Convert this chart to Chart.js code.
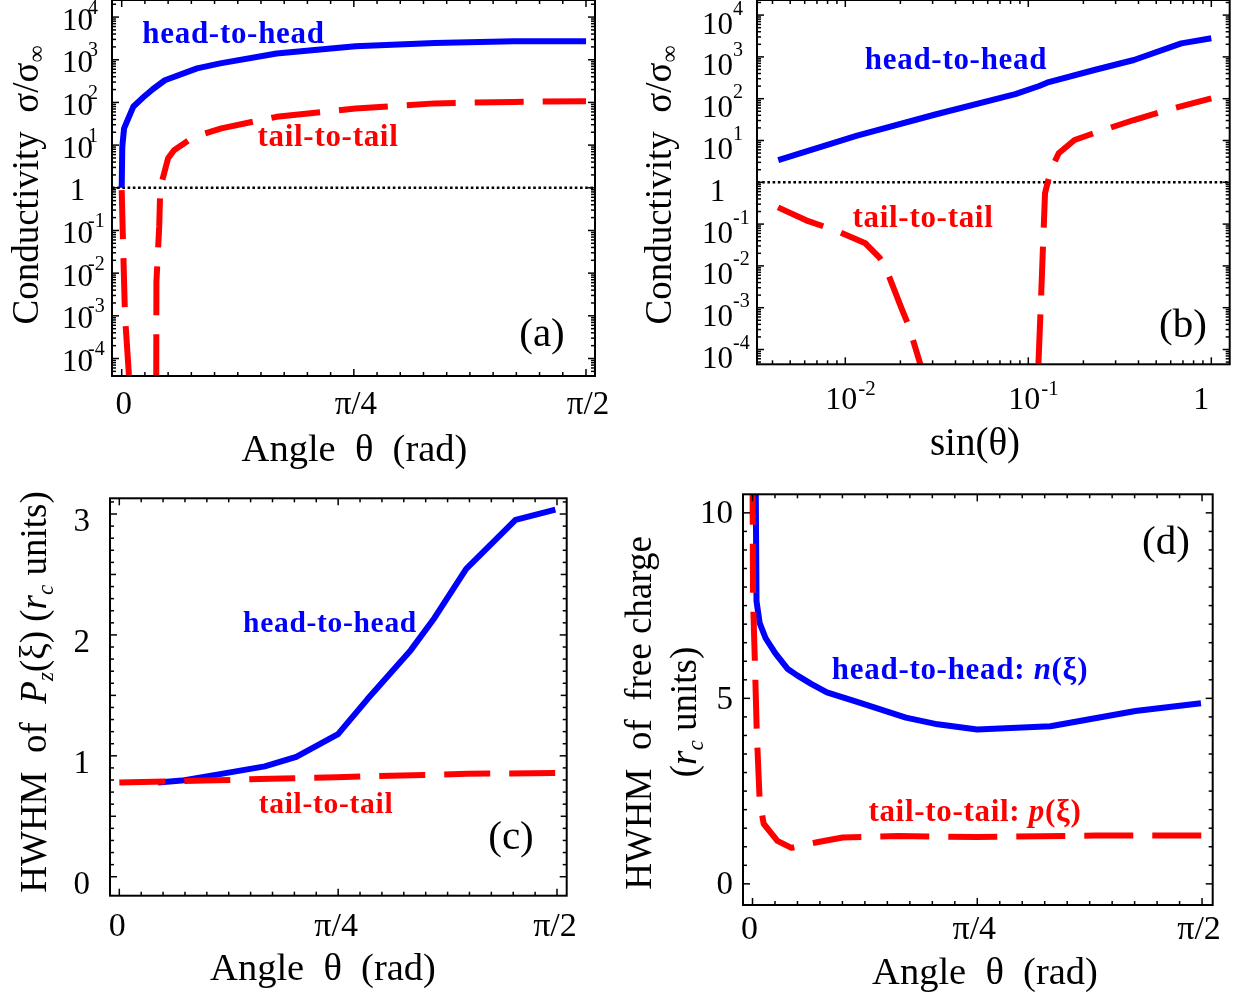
<!DOCTYPE html>
<html>
<head>
<meta charset="utf-8">
<script src="https://cdn.jsdelivr.net/npm/chart.js@4.4.1/dist/chart.umd.min.js"></script>
<style>
  html, body { margin: 0; padding: 0; background: #fff; }
  #wrap { position: relative; width: 1242px; height: 999px; overflow: hidden; }
  #wrap canvas { position: absolute; left: 0; top: 0; }
</style>
</head>
<body>
<div id="wrap">
  <canvas id="panelA" width="1242" height="999"></canvas>
  <canvas id="panelB" width="1242" height="999"></canvas>
  <canvas id="panelC" width="1242" height="999"></canvas>
  <canvas id="panelD" width="1242" height="999"></canvas>
</div>
<script>
const W = 1242, H = 999;
const PI = Math.PI;
const SERIF = '"Liberation Serif", "Times New Roman", Times, serif';
const BLUE = '#0000ff', RED = '#ff0000';

// (a) conductivity vs angle (log y)
const aHeadTheta = [0, 0.002, 0.008, 0.039, 0.078, 0.105, 0.146, 0.255, 0.333, 0.524, 0.791, 1.059, 1.326, 1.571];
const aHeadSigma = [1, 9.1, 24.6, 79, 142, 204, 331, 630, 822, 1400, 2070, 2470, 2710, 2710];
const aTailTheta = [0, 0.0034, 0.0112, 0.0247, 0.03, 0.1165, 0.1175, 0.127, 0.1305, 0.157, 0.177, 0.244, 0.337, 0.524, 0.791, 1.059, 1.326, 1.571];
const aTailSigma = [0.88, 0.1, 0.001, 0.000039, 0.000001, 0.000001, 0.0063, 0.126, 1, 4.9, 7.6, 15.6, 24.6, 46, 72, 95, 103, 107];

// (b) conductivity vs sin(theta) (log-log)
const bHeadSin = [0.0043, 0.0116, 0.0314, 0.0849, 0.1146, 0.1294, 0.2296, 0.3776, 0.6855, 1.0];
const bHeadSigma = [3.41, 13.1, 42.4, 129, 201, 250, 486, 843, 2110, 2790];
const bTailSin = [0.00429, 0.00611, 0.00881, 0.01288, 0.01538, 0.0166, 0.02032, 0.02218, 0.02582, 0.0282,
                  0.1096, 0.1144, 0.1173, 0.1203, 0.1234, 0.1327, 0.1466, 0.1789, 0.2413, 0.3771, 0.6209, 1.0];
const bTailSigma = [0.251, 0.123, 0.0708, 0.0347, 0.0158, 0.00912, 0.000955, 0.000372, 0.0000417, 0.000001,
                    0.000001, 0.000098, 0.00153, 0.0288, 0.546, 1.97, 4.94, 10.3, 16.3, 30.9, 58.9, 102];

// (c) HWHM of Pz vs angle
const cHeadTheta = [0.139, 0.224, 0.366, 0.522, 0.635, 0.785, 0.890, 1.046, 1.131, 1.245, 1.422, 1.565];
const cHeadWidth = [0.78, 0.795, 0.851, 0.913, 0.991, 1.179, 1.467, 1.874, 2.14, 2.546, 2.952, 3.036];
const cTailTheta = [0, 0.305, 0.543, 0.78, 1.014, 1.248, 1.571];
const cTailWidth = [0.78, 0.795, 0.81, 0.823, 0.837, 0.851, 0.858];

// (d) HWHM of free charge vs angle
const dHeadTheta = [0.011, 0.014, 0.025, 0.046, 0.080, 0.122, 0.156, 0.205, 0.26, 0.371, 0.536, 0.647, 0.785, 1.041, 1.338, 1.567];
const dHeadWidth = [11, 7.62, 7.03, 6.62, 6.21, 5.8, 5.62, 5.39, 5.16, 4.89, 4.48, 4.3, 4.16, 4.25, 4.66, 4.87];
const dTailTheta = [0, 0.002, 0.008, 0.015, 0.025, 0.039, 0.087, 0.136, 0.225, 0.315, 0.509, 0.785, 1.2, 1.571];
const dTailWidth = [11, 7.62, 6.07, 4.07, 2.25, 1.62, 1.16, 0.97, 1.12, 1.25, 1.29, 1.26, 1.30, 1.30];

// ticks
const angleTickValues = [0, PI / 4, PI / 2];
const angleTickLabels = ['0', 'π/4', 'π/2'];
const decadeExps = [-4, -3, -2, -1, 0, 1, 2, 3, 4];
const sinDecadeExps = [-2, -1, 0];
const cTickValues = [0, 1, 2, 3];
const dTickValues = [0, 5, 10];
const refLevel = 1;

function font(size, style) { return (style ? style + ' ' : '') + size + 'px ' + SERIF; }

function segWidth(ctx, s) {
  ctx.font = s.font;
  ctx.letterSpacing = s.ls || '0px';
  return ctx.measureText(s.t).width;
}

function drawSegs(ctx, segs, x, y, align, color) {
  ctx.textAlign = 'left';
  ctx.textBaseline = 'alphabetic';
  let w = 0;
  segs.forEach(s => { w += (s.dx || 0) + segWidth(ctx, s); });
  let cx = align === 'center' ? x - w / 2 : align === 'right' ? x - w : x;
  segs.forEach(s => {
    const sw = segWidth(ctx, s);
    cx += s.dx || 0;
    ctx.fillStyle = s.color || color || '#000';
    ctx.fillText(s.t, cx, y + (s.dy || 0));
    cx += sw;
  });
  ctx.letterSpacing = '0px';
}

function drawVertical(ctx, segs, x, y) {
  ctx.save();
  ctx.translate(x, y);
  ctx.rotate(-PI / 2);
  drawSegs(ctx, segs, 0, 0, 'center');
  ctx.restore();
}

function line(ctx, x1, y1, x2, y2) {
  ctx.beginPath(); ctx.moveTo(x1, y1); ctx.lineTo(x2, y2); ctx.stroke();
}

function angleTickList() {
  const out = [];
  for (let k = 0; k <= 20; k++) out.push([k * PI / 40, k % 10 === 0 ? 7 : 4]);
  return out;
}
function logTickList(e0, e1) {
  const out = [];
  for (let e = e0; e <= e1; e++) {
    out.push([Math.pow(10, e), 7]);
    for (let m = 2; m <= 9; m++) out.push([m * Math.pow(10, e), 4]);
  }
  return out;
}
function linTickList(step, n, every, midEvery) {
  const out = [];
  for (let k = 0; k <= n; k++) out.push([k * step, k % every === 0 ? 7 : (midEvery && k % midEvery === 0 ? 6 : 4)]);
  return out;
}

function drawFrame(ctx, chart, xList, yList) {
  const a = chart.chartArea, xs = chart.scales.x, ys = chart.scales.y;
  ctx.strokeStyle = '#000';
  ctx.lineWidth = 1.5;
  ctx.lineCap = 'butt';
  xList.forEach(([v, len]) => {
    const p = xs.getPixelForValue(v);
    if (p < a.left + 1 || p > a.right - 1) return;
    line(ctx, p, a.bottom, p, a.bottom - len);
    line(ctx, p, a.top, p, a.top + len);
  });
  yList.forEach(([v, len]) => {
    const p = ys.getPixelForValue(v);
    if (p < a.top + 1 || p > a.bottom - 1) return;
    line(ctx, a.left, p, a.left + len, p);
    line(ctx, a.right, p, a.right - len, p);
  });
  ctx.lineWidth = 2;
  ctx.strokeRect(a.left, a.top, a.right - a.left, a.bottom - a.top);
}

function angleLabels(ctx, chart, base, size, dx) {
  const xs = chart.scales.x;
  ctx.font = font(size);
  ctx.fillStyle = '#000';
  ctx.textAlign = 'center';
  ctx.textBaseline = 'alphabetic';
  angleTickValues.forEach((v, i) => ctx.fillText(angleTickLabels[i], xs.getPixelForValue(v) + dx, base));
}

function logYLabels(ctx, chart, o) {
  const ys = chart.scales.y;
  ctx.fillStyle = '#000';
  ctx.textBaseline = 'alphabetic';
  decadeExps.forEach(e => {
    const base = ys.getPixelForValue(Math.pow(10, e)) + o.dy;
    ctx.font = font(o.size);
    const w10 = ctx.measureText('10').width;
    if (e === 0) {
      ctx.textAlign = 'center';
      ctx.fillText('1', o.right - w10 / 2, base);
    } else {
      ctx.textAlign = 'right';
      ctx.fillText('10', o.right, base);
      ctx.font = font(o.esize);
      ctx.textAlign = 'left';
      ctx.fillText(String(e), o.right + o.edx, base + o.edy);
    }
  });
}

function logXLabels(ctx, chart, o) {
  const xs = chart.scales.x;
  ctx.fillStyle = '#000';
  ctx.textBaseline = 'alphabetic';
  sinDecadeExps.forEach(e => {
    const p = xs.getPixelForValue(Math.pow(10, e));
    ctx.font = font(o.size);
    if (e === 0) {
      ctx.textAlign = 'center';
      ctx.fillText('1', p + o.oneDx, o.base);
    } else {
      const w10 = ctx.measureText('10').width;
      ctx.textAlign = 'center';
      ctx.fillText('10', p + o.dx, o.base);
      ctx.font = font(o.esize);
      ctx.textAlign = 'left';
      ctx.fillText(String(e), p + o.dx + w10 / 2 + o.edx, o.base + o.edy);
    }
  });
}

function linYLabels(ctx, chart, values, o) {
  const ys = chart.scales.y;
  ctx.font = font(o.size);
  ctx.fillStyle = '#000';
  ctx.textAlign = 'right';
  ctx.textBaseline = 'alphabetic';
  values.forEach(v => ctx.fillText(String(v), o.right, ys.getPixelForValue(v) + o.dy));
}

function bold(t, size, color, style) {
  return { t, font: font(size, style || 'bold'), color, ls: '0.7px' };
}

function series(xs, ys) { return xs.map((x, i) => ({ x, y: ys[i] })); }

function curve(xs, ys, color, dash) {
  return {
    data: series(xs, ys), borderColor: color, borderWidth: 6, borderDash: dash || [],
    borderJoinStyle: 'round', pointRadius: 0, tension: 0, clip: 0, fill: false
  };
}

function refLine(xMin, xMax) {
  return {
    data: [{ x: xMin, y: refLevel }, { x: xMax, y: refLevel }], borderColor: '#000',
    borderWidth: 2.6, borderDash: [2.6, 2.6], pointRadius: 0, clip: 0, fill: false
  };
}

function makeChart(id, box, xAxis, yAxis, datasets, decorate) {
  return new Chart(document.getElementById(id), {
    type: 'line',
    data: { datasets },
    options: {
      responsive: false,
      animation: false,
      devicePixelRatio: 1,
      events: [],
      layout: { padding: { left: box.l, top: box.t, right: W - box.r, bottom: H - box.b } },
      plugins: { legend: { display: false }, tooltip: { enabled: false } },
      scales: {
        x: Object.assign({ display: false }, xAxis),
        y: Object.assign({ display: false }, yAxis)
      }
    },
    plugins: [{
      id: 'decor',
      afterDatasetsDraw(chart) {
        const ctx = chart.ctx;
        ctx.save();
        decorate(ctx, chart);
        ctx.restore();
      }
    }]
  });
}

const DASH = [49, 19];

// ---------- (a) ----------
const aX = { type: 'linear', min: -0.0328, max: 1.6013 };
makeChart('panelA', { l: 112, t: 0, r: 595, b: 376 }, aX,
  { type: 'logarithmic', min: Math.pow(10, -4.41), max: Math.pow(10, 4.40) },
  [curve(aTailTheta, aTailSigma, RED, DASH), curve(aHeadTheta, aHeadSigma, BLUE), refLine(aX.min, aX.max)],
  (ctx, chart) => {
    drawFrame(ctx, chart, angleTickList(), logTickList(-5, 4));
    angleLabels(ctx, chart, 414, 33, 2);
    logYLabels(ctx, chart, { right: 93, dy: 12.5, size: 31, esize: 20, edx: -5, edy: -16 });
    drawSegs(ctx, [{ t: 'Angle  θ  (rad)', font: font(38.5) }], 354.5, 461, 'center');
    drawVertical(ctx, [{ t: 'Conductivity  σ/σ', font: font(37) }, { t: '∞', font: font(24), dy: 6 }], 38, 185);
    drawSegs(ctx, [bold('head-to-head', 31, BLUE)], 233.5, 43, 'center');
    drawSegs(ctx, [bold('tail-to-tail', 31, RED)], 328, 146, 'center');
    drawSegs(ctx, [{ t: '(a)', font: font(41) }], 542, 346, 'center');
  });

// ---------- (b) ----------
const bX = { type: 'logarithmic', min: Math.pow(10, -2.4825), max: Math.pow(10, 0.1005) };
makeChart('panelB', { l: 757, t: 0, r: 1229.7, b: 364.3 }, bX,
  { type: 'logarithmic', min: Math.pow(10, -4.354), max: Math.pow(10, 4.361) },
  [curve(bTailSin, bTailSigma, RED, DASH), curve(bHeadSin, bHeadSigma, BLUE), refLine(bX.min, bX.max)],
  (ctx, chart) => {
    drawFrame(ctx, chart, logTickList(-3, 0), logTickList(-5, 4));
    logXLabels(ctx, chart, { base: 409, size: 32, esize: 21, dx: -4, edx: 1, edy: -14, oneDx: -10 });
    logYLabels(ctx, chart, { right: 733, dy: 18.5, size: 31, esize: 20, edx: 0, edy: -19 });
    drawSegs(ctx, [{ t: 'sin(θ)', font: font(39) }], 975, 455, 'center');
    drawVertical(ctx, [{ t: 'Conductivity  σ/σ', font: font(37) }, { t: '∞', font: font(24), dy: 6 }], 671, 185);
    drawSegs(ctx, [bold('head-to-head', 31, BLUE)], 956, 69, 'center');
    drawSegs(ctx, [bold('tail-to-tail', 31, RED)], 923, 227, 'center');
    drawSegs(ctx, [{ t: '(b)', font: font(41) }], 1183, 337, 'center');
  });

// ---------- (c) ----------
makeChart('panelC', { l: 110, t: 498.3, r: 566.7, b: 895.7 },
  { type: 'linear', min: -0.0334, max: 1.6056 },
  { type: 'linear', min: -0.157, max: 3.13 },
  [curve(cTailTheta, cTailWidth, RED, [46, 19]), curve(cHeadTheta, cHeadWidth, BLUE)],
  (ctx, chart) => {
    drawFrame(ctx, chart, angleTickList(), linTickList(0.1, 31, 10, 5));
    angleLabels(ctx, chart, 936, 34, -2);
    linYLabels(ctx, chart, cTickValues, { right: 90, dy: 17, size: 33 });
    drawSegs(ctx, [{ t: 'Angle  θ  (rad)', font: font(38.5) }], 323, 980, 'center');
    drawVertical(ctx, [
      { t: 'HWHM  of  ', font: font(37) },
      { t: 'P', font: font(37, 'italic') },
      { t: 'z', font: font(23, 'italic'), dy: 7 },
      { t: '(ξ) (', font: font(37) },
      { t: 'r', font: font(37, 'italic') },
      { t: 'c', font: font(23, 'italic'), dy: 7 },
      { t: ' units)', font: font(37) }
    ], 46, 692);
    drawSegs(ctx, [bold('head-to-head', 29.5, BLUE)], 330, 632, 'center');
    drawSegs(ctx, [bold('tail-to-tail', 29.5, RED)], 326, 813, 'center');
    drawSegs(ctx, [{ t: '(c)', font: font(41) }], 511, 849, 'center');
  });

// ---------- (d) ----------
makeChart('panelD', { l: 743, t: 494.3, r: 1212.7, b: 905 },
  { type: 'linear', min: -0.0332, max: 1.608 },
  { type: 'linear', min: -0.57, max: 10.5 },
  [curve(dTailTheta, dTailWidth, RED, DASH), curve(dHeadTheta, dHeadWidth, BLUE)],
  (ctx, chart) => {
    drawFrame(ctx, chart, angleTickList(), linTickList(0.5, 21, 10));
    angleLabels(ctx, chart, 939, 34, -3);
    linYLabels(ctx, chart, dTickValues, { right: 733, dy: 10.5, size: 33 });
    drawSegs(ctx, [{ t: 'Angle  θ  (rad)', font: font(38.5) }], 985, 984, 'center');
    drawVertical(ctx, [{ t: 'HWHM  of  free charge', font: font(37) }], 651, 713);
    drawVertical(ctx, [
      { t: '(', font: font(37) },
      { t: 'r', font: font(37, 'italic') },
      { t: 'c', font: font(23, 'italic'), dy: 7 },
      { t: ' units)', font: font(37) }
    ], 696, 712);
    drawSegs(ctx, [bold('head-to-head: ', 31, BLUE), bold('n', 31, BLUE, 'italic bold'), bold('(ξ)', 31, BLUE)], 960, 679, 'center');
    drawSegs(ctx, [bold('tail-to-tail: ', 31, RED), bold('p', 31, RED, 'italic bold'), bold('(ξ)', 31, RED)], 975, 821, 'center');
    drawSegs(ctx, [{ t: '(d)', font: font(41) }], 1166, 554, 'center');
  });
</script>
</body>
</html>
